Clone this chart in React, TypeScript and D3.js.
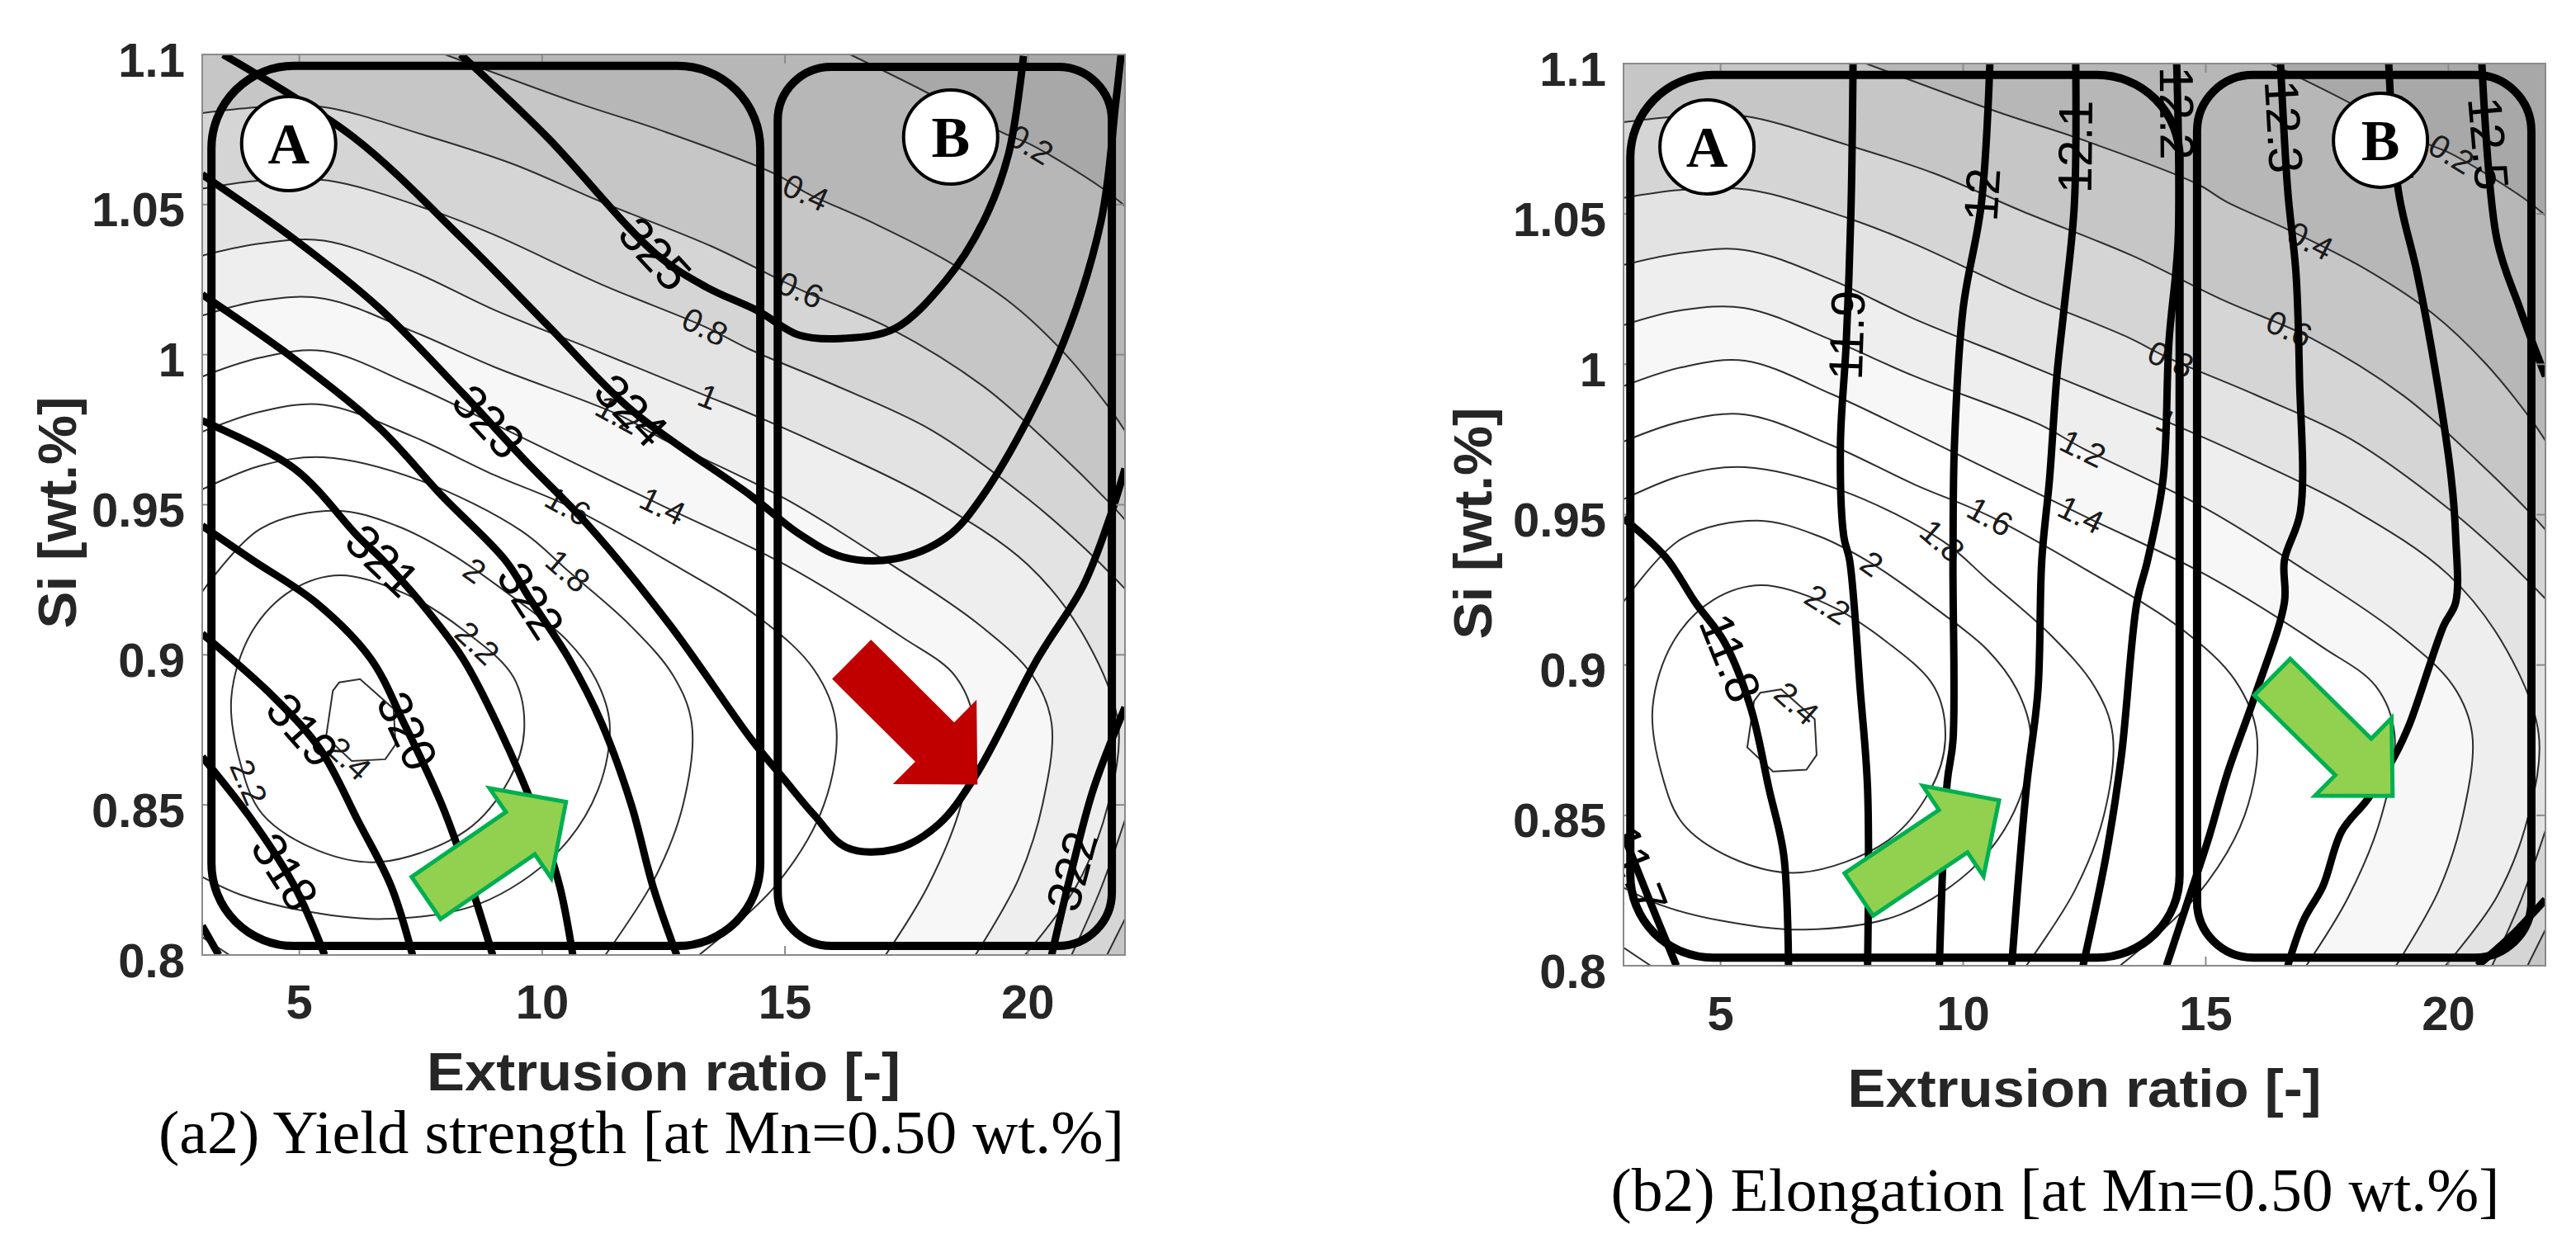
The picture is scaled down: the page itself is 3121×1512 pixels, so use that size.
import React from "react";
import * as d3 from "d3";

type Pt = [number, number];

const W = 3121;
const H = 1512;

// axes
const X_DOMAIN: [number, number] = [3, 22];
const Y_DOMAIN: [number, number] = [0.8, 1.1];
const xTicks = [5, 10, 15, 20];
const yTicks = [0.8, 0.85, 0.9, 0.95, 1, 1.05, 1.1];
const yTickLabels = ["0.8", "0.85", "0.9", "0.95", "1", "1.05", "1.1"];

// thin contour field (same in both panels), each level as boundary-to-boundary pieces
const thinLevels = [0.2, 0.4, 0.6, 0.8, 1.0, 1.2, 1.4, 1.6, 1.8, 2.0, 2.2, 2.4];
const thin02: Pt[][] = [[[22, 1.0495], [21.5, 1.0558], [20.06, 1.07], [19.54, 1.0735], [17.72, 1.089], [16.34, 1.1]]];
const thin04: Pt[][] = [[[22, 0.9746], [21.66, 0.9826], [20.74, 1.0007], [19.69, 1.0167], [18.31, 1.0315], [16.8, 1.044], [15.43, 1.054], [14.82, 1.06], [12.43, 1.0748], [10.73, 1.0838], [8.0, 1.1]]];
const thin06: Pt[][] = [
  [[21.63, 0.8], [22, 0.812]],
  [[22, 0.945], [21.66, 0.951], [20.59, 0.968], [19.08, 0.9895], [17.17, 1.0087], [15.32, 1.0216], [13.5, 1.036], [11.2, 1.051], [9.4, 1.0635], [7.6, 1.073], [5.5, 1.0825], [4.2, 1.0825], [3, 1.0805]],
];
const thin08: Pt[][] = [
  [[20.9, 0.8], [21.5, 0.822], [22, 0.845]],
  [[22, 0.922], [21.2, 0.935], [20, 0.952], [18, 0.975], [16, 0.99], [14.28, 1.0017], [13.35, 1.0093], [11.22, 1.0234], [9, 1.04], [7.66, 1.0484], [5.6, 1.058], [4.2, 1.058], [3, 1.0553]],
];
const thin10: Pt[][] = [[[19.94, 0.8], [21.0, 0.823], [21.65, 0.85], [21.86, 0.877], [21.2, 0.905], [20, 0.93], [18, 0.952], [16, 0.968], [14.19, 0.981], [13.42, 0.986], [11, 1.002], [9, 1.015], [7.3, 1.028], [5.5, 1.038], [4.2, 1.037], [3, 1.033]]];
const thin12: Pt[][] = [[[18.92, 0.8], [19.8, 0.825], [20.3, 0.85], [20.49, 0.877], [20.1, 0.893], [19, 0.91], [17, 0.932], [15, 0.952], [12.47, 0.972], [11.57, 0.98], [9, 0.996], [7.3, 1.008], [5.5, 1.0187], [4.2, 1.018], [3, 1.013]]];
const thin14: Pt[][] = [[[17.07, 0.8], [17.94, 0.8229], [18.62, 0.8498], [18.89, 0.877], [18.5, 0.893], [17.4, 0.906], [15, 0.93], [12.48, 0.9496], [9, 0.977], [7.3, 0.99], [5.5, 1.0012], [4.2, 0.999], [3, 0.9927]]];
const thin16: Pt[][] = [[[13.23, 0.8], [14.8, 0.823], [15.8, 0.85], [16.05, 0.877], [15.6, 0.895], [14.5, 0.912], [12.5, 0.932], [10.53, 0.9496], [9, 0.96], [7.3, 0.973], [5.5, 0.9833], [4.2, 0.981], [3, 0.9743]]];
const thin18: Pt[][] = [
  [[3, 0.806], [3.56, 0.8]],
  [[11.3, 0.8], [12.3, 0.825], [12.9, 0.85], [13.08, 0.877], [12.7, 0.893], [11.8, 0.91], [10.53, 0.928], [9.57, 0.9413], [7.5, 0.958], [5.5, 0.9658], [4.2, 0.963], [3, 0.9551]],
];
const thin20: Pt[][] = [[[3, 0.826], [3.8, 0.82], [5.0, 0.815], [6.74, 0.812], [8.7, 0.817], [10.3, 0.834], [11.15, 0.855], [11.39, 0.877], [11.1, 0.892], [10.5, 0.905], [9.5, 0.918], [8.12, 0.9337], [7.0, 0.943], [5.76, 0.948], [4.2, 0.942], [3, 0.921]]];
const thin22: Pt[][] = [[[5.84, 0.9265], [7.2, 0.9202], [8.43, 0.9076], [9.41, 0.8925], [9.63, 0.8749], [9.33, 0.8587], [8.43, 0.8414], [6.67, 0.831], [5.38, 0.8348], [4.24, 0.8469], [3.78, 0.8642], [3.6, 0.8859], [4.02, 0.9076], [4.85, 0.9216]]];
const thin24: Pt[][] = [[[5.82, 0.8908], [6.25, 0.8919], [6.94, 0.882], [6.98, 0.8701], [6.77, 0.8652], [6.08, 0.8646], [5.55, 0.8726], [5.69, 0.888]]];
const thinPieces = [thin02, thin04, thin06, thin08, thin10, thin12, thin14, thin16, thin18, thin20, thin22, thin24];
const bandGrays = ["#a8a8a8", "#b7b7b7", "#c6c6c6", "#d5d5d5", "#e3e3e3", "#eeeeee", "#f7f7f7", "#ffffff", "#ffffff", "#ffffff", "#ffffff", "#ffffff", "#ffffff"];

// yield strength lines (a2)
const yieldLevels = [317, 318, 319, 320, 321, 322, 323, 324, 325, 322];
const ys317: Pt[] = [[3, 0.8097], [3.34, 0.8]];
const ys318: Pt[] = [[3, 0.866], [4.04, 0.8446], [4.9, 0.8229], [5.52, 0.8]];
const ys319: Pt[] = [[3, 0.907], [4.48, 0.8858], [5.43, 0.8685], [6.21, 0.8446], [6.89, 0.8229], [7.33, 0.8]];
const ys320: Pt[] = [[3, 0.943], [4.04, 0.9315], [5.34, 0.9174], [6.47, 0.8987], [7.16, 0.877], [7.94, 0.8498], [8.54, 0.8229], [8.98, 0.8]];
const ys321: Pt[] = [[3, 0.978], [4.9, 0.962], [6.21, 0.9394], [6.72, 0.9315], [7.5, 0.9174], [8.37, 0.8987], [9.1, 0.876], [9.93, 0.8446], [10.36, 0.8229], [10.63, 0.8]];
const ys322: Pt[] = [[3, 1.02], [4.9, 0.9985], [6.64, 0.9757], [7.94, 0.9529], [9.24, 0.9315], [9.76, 0.9183], [10.55, 0.8987], [11.23, 0.877], [11.84, 0.8498], [12.28, 0.8229], [12.77, 0.8]];
const ys323: Pt[] = [[3, 1.06], [4.9, 1.0384], [6.64, 1.0156], [8.37, 0.987], [9.68, 0.9642], [10.9, 0.944], [12.64, 0.9097], [14.3, 0.872], [14.98, 0.8586], [15.59, 0.8468], [16.27, 0.8358], [17.26, 0.8352], [18.16, 0.8435], [18.92, 0.8597], [20.2, 0.8987], [21.13, 0.9227], [21.66, 0.9444], [22, 0.962]];
const ys324: Pt[] = [[3.43, 1.1], [6.11, 1.0725], [8.37, 1.0384], [10.1, 1.01], [11.84, 0.9815], [14.3, 0.953], [15.29, 0.9403], [16.19, 0.9326], [17.26, 0.932], [18.31, 0.939], [19.08, 0.9532], [20.59, 0.9985], [21.5, 1.044], [21.81, 1.084], [21.92, 1.1]];
const ys325: Pt[] = [[8.32, 1.1], [10.1, 1.0725], [12.33, 1.0337], [13.38, 1.0225], [14.45, 1.0145], [15.29, 1.0065], [16.19, 1.0054], [17.26, 1.0087], [18.31, 1.0247], [19.08, 1.0442], [19.6, 1.0667], [19.91, 1.0995]];
const ys322b: Pt[] = [[22, 0.8825], [21.35, 0.8553], [20.9, 0.828], [20.49, 0.8]];
const yieldLines = [ys317, ys318, ys319, ys320, ys321, ys322, ys323, ys324, ys325, ys322b];
const yieldLabels: [string, number, number][] = [
  ["325", 12.33, 1.0337], ["324", 11.84, 0.9815], ["323", 8.98, 0.979], ["322", 9.76, 0.918], ["321", 6.72, 0.9315],
  ["320", 7.25, 0.8748], ["319", 4.9, 0.8726], ["318", 4.73, 0.828], ["322", 20.9, 0.828],
];

// elongation lines (b2)
const elLevels = [11.7, 11.8, 11.9, 12.0, 12.1, 12.2, 12.3, 12.4, 12.5, 12.5];
const el117: Pt[] = [[3, 0.8436], [3.56, 0.8208], [4.09, 0.8]];
const el118: Pt[] = [[3, 0.9488], [3.87, 0.9358], [4.48, 0.9208], [5.08, 0.9076], [5.62, 0.8859], [6.0, 0.8587], [6.3, 0.837], [6.4, 0.8]];
const el119: Pt[] = [[7.73, 1.1], [7.69, 1.0528], [7.59, 1.0072], [7.47, 0.9732], [7.54, 0.9427], [7.66, 0.9348], [7.88, 0.8914], [8.03, 0.8587], [8.03, 0.8]];
const el120: Pt[] = [[10.55, 1.1], [10.37, 1.0528], [10.0, 1.0187], [9.82, 0.9732], [9.79, 0.9348], [9.79, 0.8749], [9.67, 0.8609], [9.51, 0.8]];
const el121: Pt[] = [[12.32, 1.1], [12.29, 1.0528], [12.08, 1.0187], [11.93, 0.996], [11.78, 0.9619], [11.62, 0.9348], [11.54, 0.8914], [11.3, 0.8587], [11.0, 0.8]];
const el122: Pt[] = [[14.4, 1.1], [14.43, 1.0415], [14.24, 1.0072], [14.12, 0.9619], [13.8, 0.9348], [13.58, 0.9208], [13.26, 0.8697], [12.95, 0.837], [12.47, 0.8]];
const el123: Pt[] = [[16.54, 1.1], [16.69, 1.0575], [16.86, 1.03], [16.93, 0.996], [16.95, 0.951], [16.62, 0.9348], [16.62, 0.9208], [16.0, 0.8892], [15.45, 0.8642], [15.06, 0.8425], [14.6, 0.82], [14.19, 0.8]];
const el124: Pt[] = [[18.77, 1.1], [18.97, 1.0575], [19.36, 1.03], [19.75, 0.996], [20.06, 0.9619], [20.15, 0.9427], [20.15, 0.9208], [19.9, 0.913], [19.2, 0.8804], [18.89, 0.8697], [18.34, 0.8555], [17.8, 0.8447], [17.41, 0.8263], [17.02, 0.8153], [16.69, 0.8]];
const el125: Pt[] = [[20.69, 1.1], [21.0, 1.0415], [21.47, 1.0187], [22, 0.996]];
const el125b: Pt[] = [[20.6, 0.8], [21.3, 0.81], [22, 0.822]];
const elLines = [el117, el118, el119, el120, el121, el122, el123, el124, el125, el125b];
const elLabels: [string, number, number][] = [
  ["11.9", 7.6, 1.0097], ["12", 10.4, 1.0564], ["12.1", 12.28, 1.0723], ["12.2", 14.41, 1.0835], ["12.3", 16.6, 1.079],
  ["12.4", 18.85, 1.075], ["12.5", 20.81, 1.0734], ["11.8", 5.16, 0.9021], ["11.7", 3.19, 0.8315],
];

// thin labels [text, level, x, y]
const thinLabelsA: [string, number, number, number][] = [
  ["0.2", 0.2, 20.06, 1.07], ["0.4", 0.4, 15.43, 1.054], ["0.6", 0.6, 15.32, 1.0216], ["0.8", 0.8, 13.35, 1.0093],
  ["1", 1.0, 13.42, 0.986], ["1.2", 1.2, 11.57, 0.98], ["1.4", 1.4, 12.48, 0.9496], ["1.6", 1.6, 10.53, 0.9496],
  ["1.8", 1.8, 10.53, 0.928], ["2", 2.0, 8.59, 0.9276], ["2.2", 2.2, 8.68, 0.9042], ["2.2", 2.2, 3.95, 0.8575], ["2.4", 2.4, 5.94, 0.864],
];
const thinLabelsB: [string, number, number, number][] = [
  ["0.2", 0.2, 20.06, 1.07], ["0.4", 0.4, 17.17, 1.0415], ["0.6", 0.6, 16.69, 1.0108], ["0.8", 0.8, 14.28, 1.0017],
  ["1", 1.0, 14.19, 0.981], ["1.2", 1.2, 12.47, 0.972], ["1.4", 1.4, 12.47, 0.9515], ["1.6", 1.6, 10.55, 0.9493],
  ["1.8", 1.8, 9.57, 0.9413], ["2", 2.0, 8.12, 0.9337], ["2.2", 2.2, 7.2, 0.92], ["2.4", 2.4, 6.5, 0.886],
];

// annotation boxes [x0, x1, y0, y1], circles [letter, x, y], arrows [tailX, tailY, tipX, tipY]
const boxesA: [number, number, number, number][] = [[3.19, 14.49, 0.803, 1.0962], [14.85, 21.73, 0.803, 1.0959]];
const boxesB: [number, number, number, number][] = [[3.14, 14.46, 0.8027, 1.0962], [14.82, 21.71, 0.8027, 1.0962]];
const circlesA: [string, number, number][] = [["A", 4.78, 1.0703], ["B", 18.41, 1.0725]];
const circlesB: [string, number, number][] = [["A", 4.72, 1.0723], ["B", 18.6, 1.0745]];
const arrowsA: [number, number, number, number][] = [[7.61, 0.819, 10.49, 0.851], [16.4, 0.898, 18.92, 0.8575]];
const arrowsB: [number, number, number, number][] = [[7.85, 0.8237, 10.74, 0.855], [16.37, 0.896, 18.85, 0.8565]];
const arrowColorsA = [["#92d050", "#00b050"], ["#c00000", "#c00000"]];
const arrowColorsB = [["#92d050", "#00b050"], ["#92d050", "#00b050"]];

const SANS = "'Liberation Sans', Arial, Helvetica, sans-serif";
const SERIF = "'Liberation Serif', 'Times New Roman', Times, serif";

const corners: Pt[] = [[X_DOMAIN[0], Y_DOMAIN[0]], [X_DOMAIN[1], Y_DOMAIN[0]], [X_DOMAIN[1], Y_DOMAIN[1]], [X_DOMAIN[0], Y_DOMAIN[1]]];
function boundaryT([px, py]: Pt): number {
  const e = 1e-9;
  const [x0, x1] = X_DOMAIN;
  const [y0, y1] = Y_DOMAIN;
  if (Math.abs(py - y0) < e) return (px - x0) / (x1 - x0);
  if (Math.abs(px - x1) < e) return 1 + (py - y0) / (y1 - y0);
  if (Math.abs(py - y1) < e) return 2 + (x1 - px) / (x1 - x0);
  return 3 + (y1 - py) / (y1 - y0);
}
function walk(from: Pt, to: Pt): Pt[] {
  const t0 = boundaryT(from);
  let t1 = boundaryT(to);
  if (t1 <= t0) t1 += 4;
  const out: Pt[] = [];
  for (let k = Math.floor(t0) + 1; k < t1; k++) out.push(corners[k % 4]);
  return out;
}

function labelPose(pts: Pt[], p: Pt): { pos: Pt; ang: number } {
  let best = Infinity;
  let pos: Pt = p;
  let ang = 0;
  for (let i = 0; i < pts.length - 1; i++) {
    const a = pts[i], b = pts[i + 1];
    const vx = b[0] - a[0], vy = b[1] - a[1];
    const l2 = vx * vx + vy * vy || 1;
    let t = ((p[0] - a[0]) * vx + (p[1] - a[1]) * vy) / l2;
    t = Math.max(0, Math.min(1, t));
    const q: Pt = [a[0] + t * vx, a[1] + t * vy];
    const d = Math.hypot(q[0] - p[0], q[1] - p[1]);
    if (d < best) {
      best = d;
      pos = q;
      ang = (Math.atan2(vy, vx) * 180) / Math.PI;
    }
  }
  if (ang > 90) ang -= 180;
  if (ang < -90) ang += 180;
  return { pos, ang };
}

type Spec = {
  id: string;
  left: number; top: number; width: number; height: number;
  lines: Pt[][]; lineLabels: [string, number, number][];
  thinLabels: [string, number, number, number][];
  boxes: [number, number, number, number][]; radii: number[];
  circles: [string, number, number][];
  arrows: [number, number, number, number][]; arrowColors: string[][];
  tickDy: number; titleDy: number;
  yLabelX: number; yLabelY: number;
  caption: string; captionX: number; captionY: number; captionLen: number;
};

function Panel({ s }: { s: Spec }) {
  const x = d3.scaleLinear().domain(X_DOMAIN).range([s.left, s.left + s.width]);
  const y = d3.scaleLinear().domain(Y_DOMAIN).range([s.top + s.height, s.top]);
  const smooth = d3.line<Pt>().x((d) => x(d[0])).y((d) => y(d[1])).curve(d3.curveCatmullRom.alpha(0.5));
  const smoothClosed = d3.line<Pt>().x((d) => x(d[0])).y((d) => y(d[1])).curve(d3.curveCatmullRomClosed.alpha(0.5));
  const poly = d3.line<Pt>().x((d) => x(d[0])).y((d) => y(d[1])).curve(d3.curveLinearClosed);
  const bottom = s.top + s.height;
  const toScreen = (pts: Pt[]): Pt[] => pts.map((d) => [x(d[0]), y(d[1])] as Pt);

  const strokeOf = (i: number, seg: Pt[]) =>
    i === thinLevels.length - 1 ? poly(seg)! : i === thinLevels.length - 2 ? smoothClosed(seg)! : smooth(seg)!;

  const fillOf = (i: number) => {
    const segs = thinPieces[i];
    if (i >= thinLevels.length - 2) return strokeOf(i, segs[0]);
    let d = "";
    segs.forEach((seg, k) => {
      const p = smooth(seg)!;
      d += k === 0 ? p : "L" + p.slice(1);
      const next = segs[(k + 1) % segs.length];
      walk(seg[seg.length - 1], next[0]).forEach((c) => (d += `L${x(c[0])},${y(c[1])}`));
    });
    return d + "Z";
  };

  const clipId = `clip-${s.id}`;
  const arrowPts = (a: [number, number, number, number]) => {
    const t: Pt = [x(a[0]), y(a[1])];
    const p: Pt = [x(a[2]), y(a[3])];
    const dx = p[0] - t[0], dy = p[1] - t[1];
    const L = Math.hypot(dx, dy);
    const ux = dx / L, uy = dy / L, nx = -uy, ny = ux;
    const hl = 67, hw = 66, sw = 31;
    const bx = p[0] - ux * hl, by = p[1] - uy * hl;
    const pts: Pt[] = [
      [t[0] + nx * sw, t[1] + ny * sw], [bx + nx * sw, by + ny * sw], [bx + nx * hw, by + ny * hw], p,
      [bx - nx * hw, by - ny * hw], [bx - nx * sw, by - ny * sw], [t[0] - nx * sw, t[1] - ny * sw],
    ];
    return pts.map((q) => q.join(",")).join(" ");
  };

  return (
    <g>
      <defs>
        <clipPath id={clipId}>
          <rect x={s.left} y={s.top} width={s.width} height={s.height} />
        </clipPath>
      </defs>
      <g clipPath={`url(#${clipId})`}>
        <rect x={s.left} y={s.top} width={s.width} height={s.height} fill={bandGrays[0]} />
        {thinLevels.map((lv, i) => (
          <path key={`f${lv}`} d={fillOf(i)} fill={bandGrays[i + 1]} stroke="none" />
        ))}
        {thinLevels.map((lv, i) =>
          thinPieces[i].map((seg, k) => (
            <path key={`t${lv}-${k}`} d={strokeOf(i, seg)} fill="none" stroke="#2e2e2e" strokeWidth={2} />
          ))
        )}
        {s.thinLabels.map(([txt, lv, lx, ly], i) => {
          const idx = thinLevels.indexOf(lv);
          const pts = thinPieces[idx].flatMap((seg) => toScreen(seg));
          const { pos, ang } = labelPose(idx >= thinLevels.length - 2 ? [...pts, pts[0]] : pts, [x(lx), y(ly)]);
          return (
            <text key={`tl${i}`} transform={`translate(${pos[0]},${pos[1]}) rotate(${ang})`} textAnchor="middle"
              dominantBaseline="central" fontFamily={SANS} fontSize={40} fill="#1a1a1a">{txt}</text>
          );
        })}
        {s.lines.map((seg, i) => (
          <path key={`k${i}`} d={smooth(seg)!} fill="none" stroke="#000" strokeWidth={9} strokeLinejoin="round" />
        ))}
        {s.lineLabels.map(([txt, lx, ly], i) => {
          let best = { pos: [x(lx), y(ly)] as Pt, ang: 0 };
          let bd = Infinity;
          s.lines.forEach((seg) => {
            const r = labelPose(toScreen(seg), [x(lx), y(ly)]);
            const d = Math.hypot(r.pos[0] - x(lx), r.pos[1] - y(ly));
            if (d < bd) { bd = d; best = r; }
          });
          return (
            <text key={`kl${i}`} transform={`translate(${best.pos[0]},${best.pos[1]}) rotate(${best.ang})`} textAnchor="middle"
              dominantBaseline="central" fontFamily={SANS} fontSize={58} fill="#000">{txt}</text>
          );
        })}
      </g>
      {/* frame and ticks */}
      <rect x={s.left} y={s.top} width={s.width} height={s.height} fill="none" stroke="#8a8a8a" strokeWidth={2} />
      {xTicks.map((v) => (
        <g key={`xt${v}`} stroke="#8a8a8a" strokeWidth={2}>
          <line x1={x(v)} x2={x(v)} y1={bottom} y2={bottom - 11} />
          <line x1={x(v)} x2={x(v)} y1={s.top} y2={s.top + 11} />
        </g>
      ))}
      {yTicks.map((v) => (
        <g key={`yt${v}`} stroke="#8a8a8a" strokeWidth={2}>
          <line x1={s.left} x2={s.left + 11} y1={y(v)} y2={y(v)} />
          <line x1={s.left + s.width} x2={s.left + s.width - 11} y1={y(v)} y2={y(v)} />
        </g>
      ))}
      {/* boxes */}
      {s.boxes.map((b, i) => (
        <rect key={`b${i}`} x={x(b[0])} y={y(b[3])} width={x(b[1]) - x(b[0])} height={y(b[2]) - y(b[3])}
          rx={s.radii[i]} ry={s.radii[i]} fill="none" stroke="#000" strokeWidth={10} />
      ))}
      {s.circles.map(([t, cx, cy]) => (
        <g key={`c${t}`}>
          <circle cx={x(cx)} cy={y(cy)} r={57} fill="#fff" stroke="#000" strokeWidth={4} />
          <text x={x(cx)} y={y(cy) + 24} textAnchor="middle" fontFamily={SERIF} fontWeight="bold" fontSize={70} fill="#000">{t}</text>
        </g>
      ))}
      {s.arrows.map((a, i) => (
        <polygon key={`a${i}`} points={arrowPts(a)} fill={s.arrowColors[i][0]} stroke={s.arrowColors[i][1]}
          strokeWidth={5} strokeLinejoin="miter" />
      ))}
      {/* tick labels */}
      {xTicks.map((v) => (
        <text key={`xl${v}`} x={x(v)} y={bottom + s.tickDy} textAnchor="middle" fontFamily={SANS} fontWeight="bold"
          fontSize={58} fill="#262626">{v}</text>
      ))}
      {yTicks.map((v, i) => (
        <text key={`yl${v}`} x={s.left - 21} y={y(v) + 6} textAnchor="end" dominantBaseline="central" fontFamily={SANS}
          fontWeight="bold" fontSize={58} fill="#262626">{yTickLabels[i]}</text>
      ))}
      <text x={s.left + s.width / 2} y={bottom + s.titleDy} textAnchor="middle" fontFamily={SANS} fontWeight="bold"
        fontSize={64} fill="#262626" textLength={574} lengthAdjust="spacingAndGlyphs">Extrusion ratio [-]</text>
      <text transform={`translate(${s.yLabelX},${s.yLabelY}) rotate(-90)`} textAnchor="middle" dominantBaseline="central"
        fontFamily={SANS} fontWeight="bold" fontSize={64} fill="#262626" textLength={281} lengthAdjust="spacingAndGlyphs">Si [wt.%]</text>
      <text x={s.captionX} y={s.captionY} textAnchor="middle" fontFamily={SERIF} fontSize={74} fill="#000"
        textLength={s.captionLen} lengthAdjust="spacingAndGlyphs">{s.caption}</text>
    </g>
  );
}

const leftSpec: Spec = {
  id: "a2", left: 245, top: 66, width: 1118, height: 1091,
  lines: yieldLines, lineLabels: yieldLabels, thinLabels: thinLabelsA,
  boxes: boxesA, radii: [100, 65], circles: circlesA, arrows: arrowsA, arrowColors: arrowColorsA,
  tickDy: 77, titleDy: 164, yLabelX: 70, yLabelY: 621,
  caption: "(a2) Yield strength [at Mn=0.50 wt.%]", captionX: 777, captionY: 1397, captionLen: 1170,
};
const rightSpec: Spec = {
  id: "b2", left: 1967, top: 77, width: 1117, height: 1093,
  lines: elLines, lineLabels: elLabels, thinLabels: thinLabelsB,
  boxes: boxesB, radii: [100, 68], circles: circlesB, arrows: arrowsB, arrowColors: arrowColorsB,
  tickDy: 78, titleDy: 171, yLabelX: 1785, yLabelY: 634,
  caption: "(b2) Elongation [at Mn=0.50 wt.%]", captionX: 2490, captionY: 1467, captionLen: 1077,
};

export default function App() {
  void yieldLevels;
  void elLevels;
  return (
    <svg width={W} height={H} viewBox={`0 0 ${W} ${H}`} style={{ position: "absolute", left: 0, top: 0, display: "block" }}>
      <rect width={W} height={H} fill="#fff" />
      <Panel s={leftSpec} />
      <Panel s={rightSpec} />
    </svg>
  );
}
